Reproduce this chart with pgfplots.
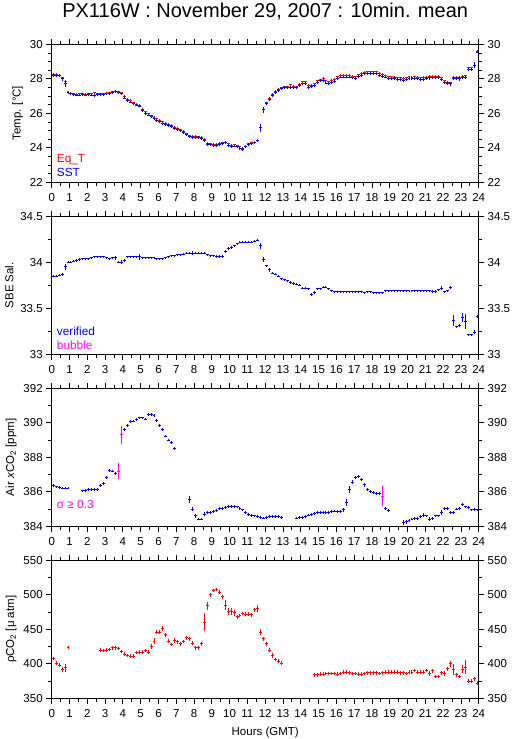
\documentclass[border=0pt]{standalone}
\usepackage{pgfplots}
\usepackage{pgfplotstable}
\pgfplotsset{compat=1.18}
\usepackage{fontspec}
\setmainfont{Liberation Sans}
\definecolor{mag}{RGB}{255,0,255}

\pgfplotstableread{
x t et s es
0.083 28.25 .06 28.18 .08
0.250 28.25 .06 28.18 .08
0.417 28.22 .06 28.18 .08
0.583 28.05 .06 28.00 .10
0.750 27.85 .06 27.70 .20
0.917 27.25 .06 27.18 .08
1.083 27.15 .06 27.12 .08
1.250 27.12 .06 27.08 .08
1.417 27.10 .06 27.06 .08
1.583 27.12 .06 27.06 .08
1.750 27.12 .06 27.08 .08
1.917 27.10 .06 27.06 .08
2.083 27.12 .06 27.08 .08
2.250 27.12 .06 27.06 .08
2.417 27.20 .06 27.05 .08
2.583 27.12 .06 27.08 .08
2.750 27.14 .06 27.10 .08
2.917 27.14 .06 27.10 .08
3.083 27.15 .06 27.12 .08
3.250 27.18 .06 27.15 .08
3.417 27.25 .06 27.22 .08
3.583 27.28 .06 27.25 .08
3.750 27.25 .06 27.22 .08
3.917 27.18 .06 27.12 .08
4.083 26.98 .06 26.88 .08
4.250 26.82 .06 26.75 .08
4.417 26.75 .06 26.65 .08
4.583 26.62 .06 26.55 .08
4.750 26.52 .06 26.48 .08
4.917 26.48 .06 26.42 .08
5.083 26.22 .06 26.15 .08
5.250 26.10 .06 26.00 .08
5.417 25.98 .06 25.90 .08
5.583 25.85 .06 25.80 .08
5.750 25.78 .06 25.70 .08
5.917 25.68 .06 25.60 .08
6.083 25.60 .06 25.52 .08
6.250 25.50 .06 25.42 .08
6.417 25.42 .06 25.35 .08
6.583 25.35 .06 25.30 .08
6.750 25.30 .06 25.22 .08
6.917 25.20 .06 25.12 .08
7.083 25.12 .06 25.05 .08
7.250 25.05 .06 24.98 .08
7.417 24.95 .06 24.88 .08
7.583 24.82 .06 24.75 .08
7.750 24.70 .06 24.65 .08
7.917 24.68 .06 24.60 .08
8.083 24.68 .06 24.60 .08
8.250 24.65 .06 24.58 .08
8.417 24.62 .06 24.55 .08
8.583 24.50 .06 24.42 .08
8.750 24.25 .06 24.20 .08
8.917 24.22 .06 24.18 .08
9.083 24.20 .06 24.15 .08
9.250 24.20 .06 24.15 .08
9.417 24.25 .06 24.20 .08
9.583 24.30 .06 24.25 .08
9.750 24.32 .06 24.28 .08
9.917 24.22 .06 24.15 .08
10.083 24.15 .06 24.08 .08
10.250 24.18 .06 24.10 .08
10.417 24.12 .06 24.05 .08
10.583 24.05 .06 23.98 .08
10.750 23.98 .06 23.88 .08
10.917 24.10 .06 24.05 .08
11.083 24.22 .06 24.18 .08
11.250 24.30 .06 24.25 .08
11.417 24.32 .06 24.28 .08
11.583 24.45 .06 24.40 .08
11.750 25.20 .06 25.15 .25
11.917 26.20 .06 26.20 .18
12.083 26.60 .06 26.55 .08
12.250 26.88 .06 26.82 .08
12.417 27.10 .06 27.05 .08
12.583 27.28 .06 27.22 .08
12.750 27.38 .06 27.32 .08
12.917 27.47 .06 27.42 .08
13.083 27.55 .06 27.48 .08
13.250 27.55 .06 27.50 .08
13.417 27.65 .06 27.48 .08
13.583 27.58 .06 27.50 .08
13.750 27.55 .06 27.48 .08
13.917 27.68 .06 27.60 .08
14.083 27.83 .06 27.70 .08
14.250 27.83 .06 27.72 .08
14.417 27.61 .06 27.50 .08
14.583 27.63 .06 27.55 .08
14.750 27.71 .06 27.60 .08
14.917 27.88 .06 27.78 .08
15.083 27.95 .06 27.88 .08
15.250 28.03 .06 27.90 .08
15.417 27.88 .06 27.75 .08
15.583 27.83 .06 27.72 .08
15.750 27.91 .06 27.80 .08
15.917 27.98 .06 27.85 .08
16.083 28.13 .06 28.02 .08
16.250 28.21 .06 28.10 .08
16.417 28.21 .06 28.10 .08
16.583 28.21 .06 28.10 .08
16.750 28.21 .06 28.10 .08
16.917 28.15 .06 28.05 .08
17.083 28.13 .06 28.02 .08
17.250 28.23 .06 28.12 .08
17.417 28.31 .06 28.20 .08
17.583 28.38 .06 28.28 .08
17.750 28.41 .06 28.30 .08
17.917 28.41 .06 28.30 .08
18.083 28.41 .06 28.30 .08
18.250 28.41 .06 28.28 .08
18.417 28.33 .06 28.20 .08
18.583 28.25 .06 28.15 .08
18.750 28.18 .06 28.10 .08
18.917 28.13 .06 28.02 .08
19.083 28.11 .06 28.00 .08
19.250 28.08 .06 28.00 .08
19.417 28.05 .06 27.95 .08
19.583 28.05 .06 27.95 .08
19.750 28.03 .06 27.92 .08
19.917 28.05 .06 27.95 .08
20.083 28.11 .06 28.00 .08
20.250 28.08 .06 28.00 .08
20.417 28.11 .06 28.02 .08
20.583 28.08 .06 28.00 .08
20.750 28.05 .06 27.95 .08
20.917 28.08 .06 27.98 .08
21.083 28.08 .06 28.00 .08
21.250 28.15 .06 28.05 .12
21.417 28.15 .06 28.05 .08
21.583 28.15 .06 28.05 .08
21.750 28.15 .06 28.05 .08
21.917 28.05 .06 27.95 .08
22.083 27.88 .06 27.80 .08
22.250 27.80 .06 27.72 .08
22.417 27.77 .06 27.70 .12
22.583 28.10 .06 28.00 .08
22.750 28.10 .06 28.02 .08
22.917 28.10 .06 28.02 .15
23.083 28.14 .06 28.05 .08
23.250 28.17 .06 28.10 .12
23.417 28.64 .06 28.55 .08
23.583 28.64 .06 28.55 .10
23.750 28.77 .06 28.80 .20
23.917 29.60 .06 29.55 .08
}\tempdata

\pgfplotstableread{
x s e
0.083 33.85 .012
0.250 33.85 .012
0.417 33.86 .012
0.583 33.87 .015
0.750 33.95 .030
0.917 34.00 .012
1.083 34.00 .012
1.250 34.01 .012
1.417 34.02 .012
1.583 34.03 .012
1.750 34.04 .012
1.917 34.04 .012
2.083 34.04 .012
2.250 34.05 .012
2.417 34.06 .012
2.583 34.06 .012
2.750 34.06 .012
2.917 34.06 .012
3.083 34.05 .012
3.250 34.04 .012
3.417 34.05 .012
3.583 34.05 .020
3.750 34.00 .012
3.917 34.00 .020
4.083 34.02 .020
4.250 34.06 .012
4.417 34.06 .012
4.583 34.06 .012
4.750 34.06 .012
4.917 34.06 .035
5.083 34.05 .012
5.250 34.05 .012
5.417 34.05 .012
5.583 34.05 .012
5.750 34.05 .012
5.917 34.04 .012
6.083 34.04 .012
6.250 34.04 .012
6.417 34.05 .012
6.583 34.06 .012
6.750 34.07 .012
6.917 34.07 .012
7.083 34.08 .012
7.250 34.08 .012
7.417 34.09 .012
7.583 34.10 .012
7.750 34.10 .012
7.917 34.10 .020
8.083 34.10 .012
8.250 34.10 .012
8.417 34.10 .012
8.583 34.10 .012
8.750 34.08 .012
8.917 34.07 .012
9.083 34.07 .012
9.250 34.06 .018
9.417 34.06 .018
9.583 34.06 .018
9.750 34.12 .015
9.917 34.15 .015
10.083 34.16 .015
10.250 34.18 .012
10.417 34.20 .012
10.583 34.22 .012
10.750 34.22 .012
10.917 34.22 .012
11.083 34.22 .012
11.250 34.22 .012
11.417 34.23 .012
11.583 34.24 .012
11.750 34.18 .030
11.917 34.03 .030
12.083 33.96 .012
12.250 33.92 .020
12.417 33.88 .012
12.583 33.87 .012
12.750 33.85 .012
12.917 33.82 .012
13.083 33.81 .012
13.250 33.80 .012
13.417 33.78 .012
13.583 33.77 .012
13.750 33.76 .012
13.917 33.75 .012
14.083 33.72 .012
14.250 33.72 .012
14.417 33.71 .012
14.583 33.65 .020
14.750 33.67 .015
14.917 33.71 .012
15.083 33.71 .012
15.250 33.73 .012
15.417 33.73 .012
15.583 33.71 .012
15.750 33.69 .012
15.917 33.68 .012
16.083 33.68 .012
16.250 33.68 .012
16.417 33.68 .012
16.583 33.68 .012
16.750 33.68 .012
16.917 33.68 .012
17.083 33.68 .012
17.250 33.68 .012
17.417 33.68 .012
17.583 33.67 .012
17.750 33.68 .012
17.917 33.68 .012
18.083 33.67 .012
18.250 33.67 .012
18.417 33.67 .012
18.583 33.67 .012
18.750 33.69 .012
18.917 33.69 .012
19.083 33.69 .012
19.250 33.69 .012
19.417 33.69 .012
19.583 33.69 .012
19.750 33.69 .012
19.917 33.69 .012
20.083 33.69 .012
20.250 33.69 .012
20.417 33.69 .012
20.583 33.69 .012
20.750 33.69 .012
20.917 33.69 .012
21.083 33.69 .012
21.250 33.69 .012
21.417 33.68 .015
21.583 33.68 .015
21.750 33.70 .015
21.917 33.72 .025
22.083 33.68 .012
22.250 33.69 .012
22.417 33.73 .015
22.583 33.37 .060
22.750 33.30 .012
22.917 33.31 .015
23.083 33.40 .050
23.250 33.36 .080
23.417 33.21 .012
23.583 33.21 .012
23.750 33.24 .020
23.917 33.41 .020
}\saldata

\pgfplotstableread{
x c e
0.083 386.35 .08
0.250 386.28 .08
0.417 386.25 .08
0.583 386.22 .08
0.750 386.22 .08
0.917 386.22 .08
1.750 386.05 .08
1.917 386.08 .08
2.083 386.15 .08
2.250 386.15 .08
2.417 386.12 .08
2.583 386.12 .08
2.750 386.38 .08
2.917 386.50 .08
3.083 386.85 .08
3.250 387.25 .10
3.417 387.20 .08
3.583 387.05 .08
4.083 389.62 .10
4.250 389.85 .08
4.417 390.08 .08
4.583 390.10 .08
4.750 390.20 .08
4.917 390.28 .08
5.083 390.28 .08
5.250 390.22 .08
5.417 390.50 .08
5.583 390.50 .08
5.750 390.42 .08
5.917 390.14 .08
6.083 389.85 .08
6.250 389.60 .08
6.417 389.23 .08
6.583 389.00 .08
6.750 388.85 .08
6.917 388.52 .10
7.750 385.55 .20
7.917 385.00 .12
8.083 384.60 .10
8.250 384.42 .08
8.417 384.42 .08
8.583 384.70 .10
8.750 384.80 .08
8.917 384.82 .08
9.083 384.85 .08
9.250 384.92 .08
9.417 385.05 .08
9.583 385.05 .08
9.750 385.10 .08
9.917 385.15 .08
10.083 385.15 .08
10.250 385.15 .08
10.417 385.12 .08
10.583 385.05 .08
10.750 384.95 .08
10.917 384.80 .08
11.083 384.70 .08
11.250 384.62 .08
11.417 384.60 .08
11.583 384.55 .08
11.750 384.50 .08
11.917 384.48 .08
12.083 384.50 .08
12.250 384.55 .08
12.417 384.55 .08
12.583 384.55 .08
12.750 384.58 .10
12.917 384.52 .08
13.750 384.48 .08
13.917 384.50 .08
14.083 384.52 .08
14.250 384.58 .08
14.417 384.65 .08
14.583 384.70 .08
14.750 384.75 .08
14.917 384.78 .08
15.083 384.80 .08
15.250 384.80 .08
15.417 384.80 .08
15.583 384.82 .08
15.750 384.85 .08
15.917 384.88 .08
16.083 384.85 .08
16.250 384.85 .08
16.417 384.95 .12
16.583 385.40 .20
16.750 386.15 .20
16.917 386.55 .12
17.083 386.85 .08
17.250 386.88 .08
17.417 386.72 .10
17.583 386.40 .10
17.750 386.15 .08
17.917 386.02 .08
18.083 385.95 .08
18.250 385.92 .08
18.417 385.92 .08
18.750 385.05 .08
18.917 384.90 .08
19.750 384.22 .12
19.917 384.25 .12
20.083 384.35 .08
20.250 384.42 .08
20.417 384.45 .08
20.583 384.45 .08
20.750 384.55 .08
20.917 384.65 .12
21.083 384.60 .08
21.250 384.42 .10
21.417 384.45 .08
21.583 384.60 .08
21.750 384.60 .08
21.917 384.80 .12
22.083 385.05 .08
22.250 385.05 .08
22.417 384.82 .08
22.583 384.78 .08
22.750 385.00 .08
22.917 385.02 .10
23.083 385.28 .08
23.250 385.12 .08
23.417 385.08 .08
23.583 384.95 .08
23.750 384.98 .08
23.917 384.95 .08
}\airdata

\pgfplotstableread{
x c e
3.750 387.20 .45
3.917 389.30 .50
18.583 385.75 .60
}\airbubble

\pgfplotstableread{
x p e
0.083 408 2.5
0.250 401 2.5
0.417 398 2.5
0.583 392 4
0.750 394 6
0.917 424 2.5
2.750 420 2.5
2.917 419 2.5
3.083 420 2.5
3.250 421 2.5
3.417 423 2.5
3.583 423 2.5
3.750 422 2.5
3.917 418 2.5
4.083 414 2.5
4.250 412 2.5
4.417 411 2.5
4.583 411 2.5
4.750 416 2.5
4.917 417 2.5
5.083 417 2.5
5.250 419 2.5
5.417 417 2.5
5.583 425 4
5.750 433 4
5.917 446 3
6.083 446 3
6.250 451 4
6.417 442 3
6.583 433 3
6.750 428 2.5
6.917 434 4
7.083 432 3
7.250 429 2.5
7.417 432 2.5
7.583 438 3
7.750 436 3
7.917 430 2.5
8.083 423 3
8.250 423 3
8.417 429 3
8.583 460 13
8.750 484 6
8.917 500 3
9.083 506 2.5
9.250 508 2.5
9.417 504 3
9.583 497 2.5
9.750 485 7
9.917 476 5
10.083 476 5
10.250 474 4
10.417 468 2.5
10.583 470 2.5
10.750 473 2.5
10.917 472 2.5
11.083 472 2.5
11.250 471 2.5
11.417 478 2.5
11.583 480 5
11.750 446 4
11.917 436 3
12.083 429 3
12.250 420 2.5
12.417 412 3
12.583 406 2.5
12.750 404 2.5
12.917 401 2.5
14.750 384 2.5
14.917 384 2.5
15.083 385 2.5
15.250 385 2.5
15.417 386 2.5
15.583 386 2.5
15.750 386 2.5
15.917 386 2.5
16.083 385 2.5
16.250 386 2.5
16.417 388 2.5
16.583 388 2.5
16.750 387 2.5
16.917 386 2.5
17.083 386 2.5
17.250 385 2.5
17.417 385 2.5
17.583 386 2.5
17.750 387 2.5
17.917 387 2.5
18.083 387 2.5
18.250 387 2.5
18.417 386 2.5
18.583 387 2.5
18.750 388 2.5
18.917 388 2.5
19.083 388 2.5
19.250 388 2.5
19.417 388 2.5
19.583 387 2.5
19.750 387 2.5
19.917 386 2.5
20.083 388 2.5
20.250 388 2.5
20.417 390 2.5
20.583 388 2.5
20.750 388 2.5
20.917 388 2.5
21.083 390 2.5
21.250 386 3
21.417 390 3
21.583 382 2.5
21.750 382 2.5
21.917 387 3
22.083 386 3
22.250 393 3
22.417 400 4
22.583 392 8
22.750 384 2.5
22.917 382 2.5
23.083 392 6
23.250 395 10
23.417 375 2.5
23.583 375 2.5
23.750 378 2.5
23.917 372 2.5
}\pco

\pgfplotsset{
  panel/.style={
    scale only axis, width=427pt, height=138pt,
    xmin=0, xmax=24, xtick={0,1,...,24}, minor x tick num=1,
    tick align=outside, major tick length=5.5pt, minor tick length=3.5pt,
    axis line style={line width=0.9pt},
    every tick/.style={black, line width=0.8pt},
    tick label style={font=\fontsize{11.5}{13}\selectfont},
    xticklabel style={yshift=-2pt},
    /pgf/number format/assume math mode=true,
    label style={font=\fontsize{11.5}{13}\selectfont},
  },
  rpanel/.style={panel, hide x axis, axis y line*=right},
  eb/.style={draw=none, mark=none, forget plot,
    error bars/.cd, x dir=both, x fixed=0.0833, y dir=both, y explicit,
    error mark=none, error bar style={line width=1pt, draw=#1, solid}},
}

\begin{document}
\begin{tikzpicture}
\useasboundingbox (-51.7pt,44.3pt) rectangle (463.3pt,-694.7pt);
\node[anchor=base, font=\fontsize{20}{24}\selectfont] at (213.5pt,27pt) {PX116W : November 29, 2007 : 10min. mean};

% Panel 1
\begin{axis}[panel, at={(0pt,0pt)}, anchor=north west,
  ymin=22, ymax=30, ytick={22,24,...,30}, minor y tick num=3,
  ylabel={Temp. [°C]}]
\addplot[eb=red] table[x=x, y=t, y error=et] {\tempdata};
\addplot[eb=blue] table[x=x, y=s, y error=es] {\tempdata};
\node[anchor=west, text=red, font=\fontsize{11.8}{13}\selectfont] at (rel axis cs:0.004,0.167) {Eq\_T};
\node[anchor=west, text=blue, font=\fontsize{11.8}{13}\selectfont] at (rel axis cs:0.004,0.075) {SST};
\end{axis}
\begin{axis}[rpanel, at={(0pt,0pt)}, anchor=north west,
  ymin=22, ymax=30, ytick={22,24,...,30}, minor y tick num=3]
\addplot[draw=none] coordinates {(0,22)};
\end{axis}

% Panel 2
\begin{axis}[panel, at={(0pt,-172pt)}, anchor=north west,
  ymin=33, ymax=34.5, ytick={33,33.5,34,34.5}, minor y tick num=1,
  ylabel={SBE Sal.}]
\addplot[eb=blue] table[x=x, y=s, y error=e] {\saldata};
\node[anchor=west, text=blue, font=\fontsize{11.8}{13}\selectfont] at (rel axis cs:0.004,0.164) {verified};
\node[anchor=west, text=mag, font=\fontsize{11.8}{13}\selectfont] at (rel axis cs:0.004,0.067) {bubble};
\end{axis}
\begin{axis}[rpanel, at={(0pt,-172pt)}, anchor=north west,
  ymin=33, ymax=34.5, ytick={33,33.5,34,34.5}, minor y tick num=1]
\addplot[draw=none] coordinates {(0,33)};
\end{axis}

% Panel 3
\begin{axis}[panel, at={(0pt,-344pt)}, anchor=north west,
  ymin=384, ymax=392, ytick={384,386,...,392}, minor y tick num=1,
  ylabel={Air \textit{x}CO\textsubscript{2} [ppm]}]
\addplot[eb=blue] table[x=x, y=c, y error=e] {\airdata};
\addplot[eb=mag] table[x=x, y=c, y error=e] {\airbubble};
\node[anchor=west, text=mag, font=\fontsize{11.8}{13}\selectfont] at (rel axis cs:0.004,0.16) {σ ≥ 0.3};
\end{axis}
\begin{axis}[rpanel, at={(0pt,-344pt)}, anchor=north west,
  ymin=384, ymax=392, ytick={384,386,...,392}, minor y tick num=1]
\addplot[draw=none] coordinates {(0,384)};
\end{axis}

% Panel 4
\begin{axis}[panel, at={(0pt,-516pt)}, anchor=north west,
  ymin=350, ymax=550, ytick={350,400,...,550}, minor y tick num=1,
  ylabel={ρCO\textsubscript{2} [μ atm]}, xlabel={Hours (GMT)},
  xlabel style={yshift=-3pt}]
\addplot[eb=red] table[x=x, y=p, y error=e] {\pco};
\end{axis}
\begin{axis}[rpanel, at={(0pt,-516pt)}, anchor=north west,
  ymin=350, ymax=550, ytick={350,400,...,550}, minor y tick num=1]
\addplot[draw=none] coordinates {(0,350)};
\end{axis}
\end{tikzpicture}
\end{document}
